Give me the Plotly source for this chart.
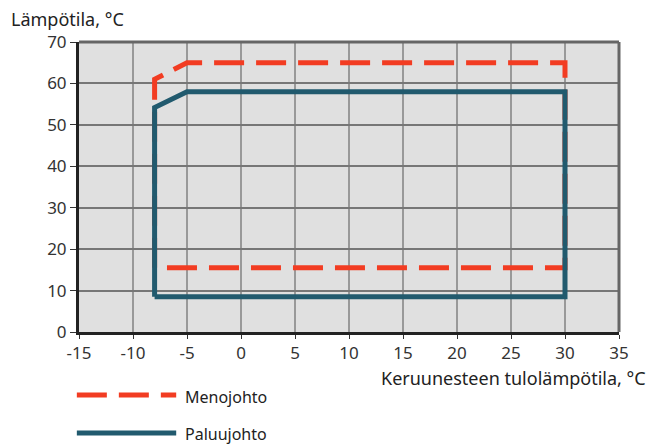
import plotly.graph_objects as go

# Operating envelope (brine inlet temp vs. water temp)
meno_x = [-8, -8, -5, 30, 30, -8]
meno_y = [15.5, 61, 65, 65, 15.5, 15.5]
paluu_x = [-8, -8, -5, 30, 30, -8]
paluu_y = [8.5, 54.2, 58, 58, 8.5, 8.5]

x_ticks = [-15, -10, -5, 0, 5, 10, 15, 20, 25, 30, 35]
x_labels = ["-15", "-10", "-5", "0", "5", "10", "15", "20", "25", "30", "35"]
y_ticks = [0, 10, 20, 30, 40, 50, 60, 70]

red = "#f23c22"
blue = "#215a6e"
font_family = "Noto Sans, Open Sans, sans-serif"

fig = go.Figure()
fig.add_trace(go.Scatter(x=meno_x, y=meno_y, mode="lines", name="Menojohto",
                         line=dict(color=red, width=5, dash="30px,12px")))
fig.add_trace(go.Scatter(x=paluu_x, y=paluu_y, mode="lines", name="Paluujohto",
                         line=dict(color=blue, width=5)))

# page body adds an 8px offset, so the figure is a bit smaller than the window
fig.update_layout(
    width=654, height=437,
    margin=dict(l=71, r=43, t=34, b=113),
    plot_bgcolor="#e0e0e0",
    paper_bgcolor="white",
    showlegend=False,
    font=dict(family=font_family, size=17, color="#333"),
)
fig.update_xaxes(range=[-15, 35], tickvals=x_ticks, ticktext=x_labels, ticks="outside", ticklen=4,
                 tickcolor="#333", showgrid=True, gridcolor="#999", gridwidth=2, zeroline=False,
                 showline=True, linecolor="#222", linewidth=3)
fig.update_yaxes(range=[0, 70], tickvals=y_ticks, ticks="outside", ticklen=6, tickcolor="#333",
                 showgrid=True, gridcolor="#777", gridwidth=1.5, zeroline=False,
                 showline=True, linecolor="#222", linewidth=3)

# top/right frame
fig.add_shape(type="line", xref="paper", yref="paper", x0=0, x1=1, y0=1, y1=1,
              line=dict(color="#666", width=3))
fig.add_shape(type="line", xref="paper", yref="paper", x0=1, x1=1, y0=0, y1=1,
              line=dict(color="#666", width=3))

# axis titles
fig.add_annotation(text="Lämpötila, °C", xref="paper", yref="paper", x=-0.13, y=1.08,
                   xanchor="left", yanchor="middle", showarrow=False, font=dict(size=18, color="#222"))
fig.add_annotation(text="Keruunesteen tulolämpötila, °C", xref="paper", yref="paper", x=1.054, y=-0.16,
                   xanchor="right", yanchor="middle", showarrow=False, font=dict(size=18, color="#222"))

# custom legend
fig.add_shape(type="line", xref="paper", yref="paper", x0=-0.004, x1=0.18, y0=-0.217, y1=-0.217,
              line=dict(color=red, width=5, dash="30px,12px"))
fig.add_shape(type="line", xref="paper", yref="paper", x0=-0.004, x1=0.18, y0=-0.348, y1=-0.348,
              line=dict(color=blue, width=5))
fig.add_annotation(text="Menojohto", xref="paper", yref="paper", x=0.193, y=-0.224,
                   xanchor="left", yanchor="middle", showarrow=False, font=dict(size=16, color="#222"))
fig.add_annotation(text="Paluujohto", xref="paper", yref="paper", x=0.193, y=-0.352,
                   xanchor="left", yanchor="middle", showarrow=False, font=dict(size=16, color="#222"))

fig.write_html("out.html")
